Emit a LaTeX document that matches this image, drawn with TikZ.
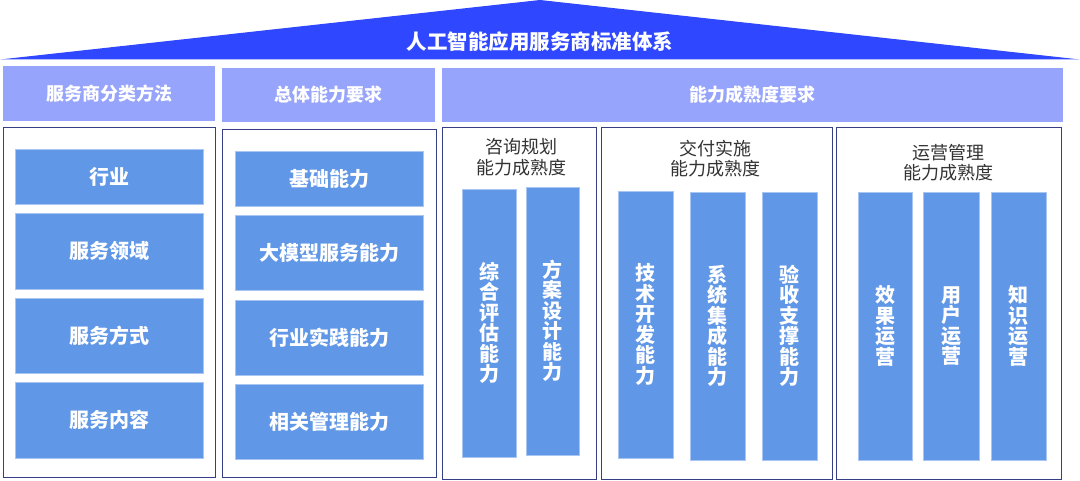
\documentclass[tikz,border=0pt]{standalone}
\usepackage{fontspec}
\setmainfont{Noto Sans CJK SC}
\definecolor{roofblue}{HTML}{2F47FF}
\definecolor{hdrblue}{HTML}{97A4FC}
\definecolor{itemblue}{HTML}{6097E6}
\definecolor{itemedge}{HTML}{A9C6F2}
\definecolor{paneledge}{HTML}{383E86}
\definecolor{titlegray}{HTML}{333333}
\begin{document}
\begin{tikzpicture}[x=1pt,y=-1pt,
  every node/.style={inner sep=0pt,outer sep=0pt},
  roof/.style={fill=roofblue},
  hdr/.style={rectangle,fill=hdrblue,anchor=north west,text=white,
    font=\bfseries\fontsize{18}{20}\selectfont},
  panel/.style={rectangle,draw=paneledge,line width=0.9pt,fill=white,anchor=north west},
  item/.style={rectangle,fill=itemblue,draw=itemedge,line width=0.6pt,anchor=north west,
    text=white,font=\bfseries\fontsize{20}{22}\selectfont},
  col/.style={item,align=center,font=\bfseries\fontsize{20}{20.5}\selectfont},
  ptitle/.style={align=center,text=titlegray,font=\fontsize{18}{20.5}\selectfont}]
\useasboundingbox (0,0) rectangle (1080,481);
% roof
\coordinate (rl) at (0,59.5);
\coordinate (ra) at (540,0);
\coordinate (rr) at (1080,59.5);
\fill[roof] (rl) -- (ra) -- (rr) -- cycle;
\node[text=white,font=\bfseries\fontsize{20.5}{22}\selectfont] (title) at (540,42) {人工智能应用服务商标准体系};
% headers
\node[hdr,minimum width=212pt,minimum height=55pt] (h1) at (3,66) {服务商分类方法};
\node[hdr,minimum width=213pt,minimum height=54pt] (h2) at (222,68) {总体能力要求};
\node[hdr,minimum width=621pt,minimum height=54pt] (h3) at (442,68) {能力成熟度要求};
% panels
\node[panel,minimum width=212pt,minimum height=350pt] (p1) at (3,127) {};
\node[panel,minimum width=214pt,minimum height=348pt] (p2) at (222,129) {};
\node[panel,minimum width=154pt,minimum height=352pt] (p3) at (442,127) {};
\node[panel,minimum width=231pt,minimum height=352pt] (p4) at (601,127) {};
\node[panel,minimum width=225pt,minimum height=352pt] (p5) at (836,127) {};
% panel 1 items
\node[item,minimum width=188pt,minimum height=55pt] (a1) at (15,149) {行业};
\node[item,minimum width=188pt,minimum height=76pt] (a2) at (15,213) {服务领域};
\node[item,minimum width=188pt,minimum height=75pt] (a3) at (15,298) {服务方式};
\node[item,minimum width=188pt,minimum height=76pt] (a4) at (15,382) {服务内容};
% panel 2 items
\node[item,minimum width=188pt,minimum height=55pt] (b1) at (235,151) {基础能力};
\node[item,minimum width=188pt,minimum height=75pt] (b2) at (235,215) {大模型服务能力};
\node[item,minimum width=188pt,minimum height=75pt] (b3) at (235,300) {行业实践能力};
\node[item,minimum width=188pt,minimum height=75pt] (b4) at (235,384) {相关管理能力};
% panel titles
\node[ptitle] (t3) at (521,157) {咨询规划\\能力成熟度};
\node[ptitle] (t4) at (715,158.5) {交付实施\\能力成熟度};
\node[ptitle] (t5) at (948,162.5) {运营管理\\能力成熟度};
% panel 3 columns
\node[col,minimum width=54pt,minimum height=268pt] (c1) at (462,189) {综\\合\\评\\估\\能\\力};
\node[col,minimum width=53pt,minimum height=268pt] (c2) at (526,187) {方\\案\\设\\计\\能\\力};
% panel 4 columns
\node[col,minimum width=55pt,minimum height=267pt] (d1) at (618,191) {技\\术\\开\\发\\能\\力};
\node[col,minimum width=55pt,minimum height=268pt] (d2) at (690,192) {系\\统\\集\\成\\能\\力};
\node[col,minimum width=55pt,minimum height=268pt] (d3) at (762,192) {验\\收\\支\\撑\\能\\力};
% panel 5 columns
\node[col,minimum width=54pt,minimum height=268pt] (e1) at (858,192) {效\\果\\运\\营};
\node[col,minimum width=56pt,minimum height=268pt] (e2) at (923,192) {用\\户\\运\\营};
\node[col,minimum width=55pt,minimum height=268pt] (e3) at (991,192) {知\\识\\运\\营};
\end{tikzpicture}
\end{document}
